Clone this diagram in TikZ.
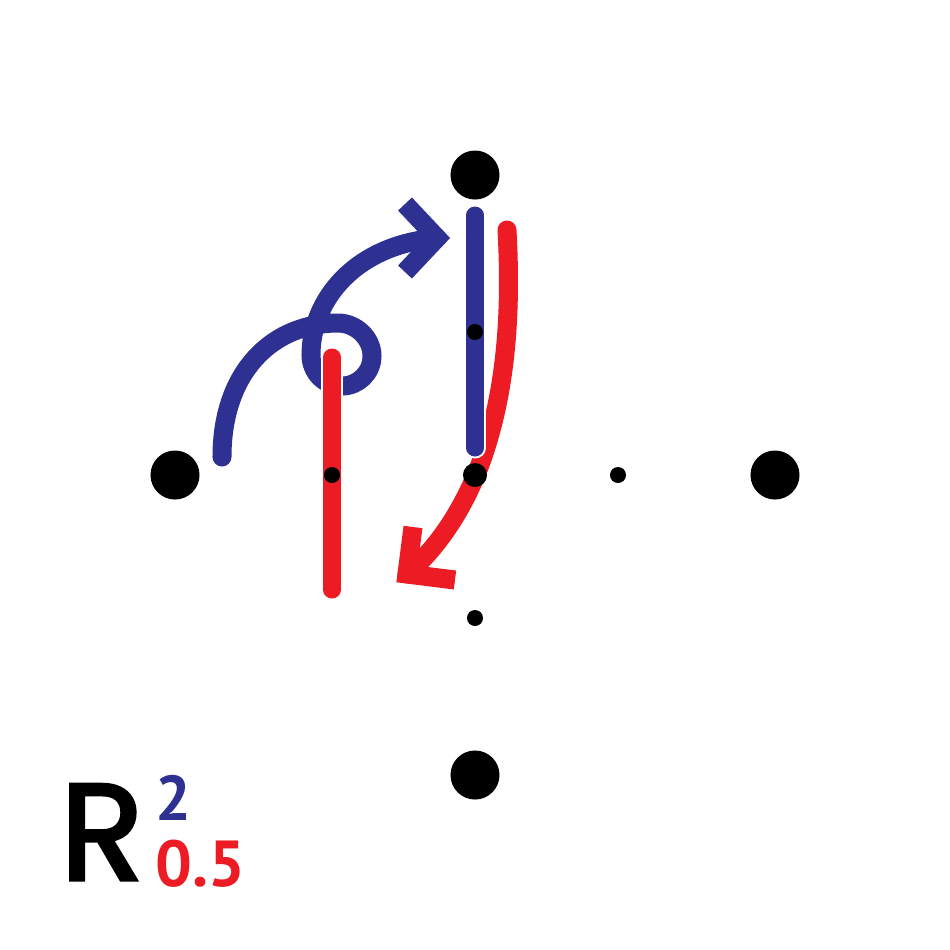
\documentclass[tikz,border=0pt]{standalone}
\usepackage{fontspec}
\setmainfont{PT Sans}
\newfontfamily\rfont[FakeBold=2.5]{Poppins}
\definecolor{myblue}{HTML}{2E3192}
\definecolor{myred}{HTML}{ED1C24}
\begin{document}
\begin{tikzpicture}[x=0.01cm,y=-0.01cm,
  stroke/.style={line width=0.17cm, line cap=round},
  curvestroke/.style={line width=0.19cm, line cap=round},
  headstroke/.style={line width=0.19cm, line cap=butt, line join=miter},
  halo/.style={line width=0.21cm, white, line cap=round},
  bigdot/.style={circle, fill=black, inner sep=0pt, minimum size=0.49cm},
  smalldot/.style={circle, fill=black, inner sep=0pt, minimum size=0.16cm},
  middot/.style={circle, fill=black, inner sep=0pt, minimum size=0.24cm}]
\useasboundingbox[fill=white] (0,0) rectangle (950,950);

% blue curved arrow
\coordinate (bs) at (222,457);
\coordinate (be) at (437,238);
\draw[curvestroke, myblue] (bs) .. controls (222,372) and (272,323) .. (338,323)
  .. controls (356,323) and (372,338) .. (372,356)
  .. controls (372,373) and (358,386) .. (342,386)
  .. controls (324,386) and (311,372) .. (311,355)
  .. controls (311,300) and (355,245) .. (be);
\coordinate (ba1) at (405,204);
\coordinate (ba2) at (405,272);
\draw[headstroke, myblue] (ba1) -- (be) -- (ba2);

% red vertical segment
\coordinate (rv1) at (332,357);
\coordinate (rv2) at (332,590);
\draw[halo] (rv1) -- (rv2);
\draw[stroke, myred] (rv1) -- (rv2);

% red curved arrow
\coordinate (rs) at (507,230);
\coordinate (re) at (407,574);
\draw[curvestroke, myred] (rs) .. controls (512,320) and (505,400) .. (478,470)
  .. controls (460,515) and (435,550) .. (re);
\coordinate (ra1) at (413,527);
\coordinate (ra2) at (455,580);
\draw[headstroke, myred] (ra1) -- (re) -- (ra2);

% blue vertical segment
\coordinate (bv1) at (475,215);
\coordinate (bv2) at (475,448);
\draw[halo] (bv1) -- (bv2);
\draw[stroke, myblue] (bv1) -- (bv2);

% dots
\node[bigdot] (top) at (475,175) {};
\node[bigdot] (left) at (175,475) {};
\node[bigdot] (right) at (775,475) {};
\node[bigdot] (bottom) at (475,775) {};
\node[middot] (center) at (475,475) {};
\node[smalldot] (up) at (475,332) {};
\node[smalldot] (lt) at (332,475) {};
\node[smalldot] (rt) at (618,475) {};
\node[smalldot] (dn) at (475,618) {};

% label
\node[anchor=base, inner sep=0pt, font=\rfont\fontsize{39}{39}\selectfont] (R) at (102,880) {R};
\node[anchor=base west, inner sep=0pt, text=myblue, font=\bfseries\fontsize{18}{18}\selectfont] (two) at (155,820) {2};
\node[anchor=base west, inner sep=0pt, text=myred, font=\bfseries\fontsize{18.5}{18.5}\selectfont] (half) at (155,886) {0.5};
\end{tikzpicture}
\end{document}
